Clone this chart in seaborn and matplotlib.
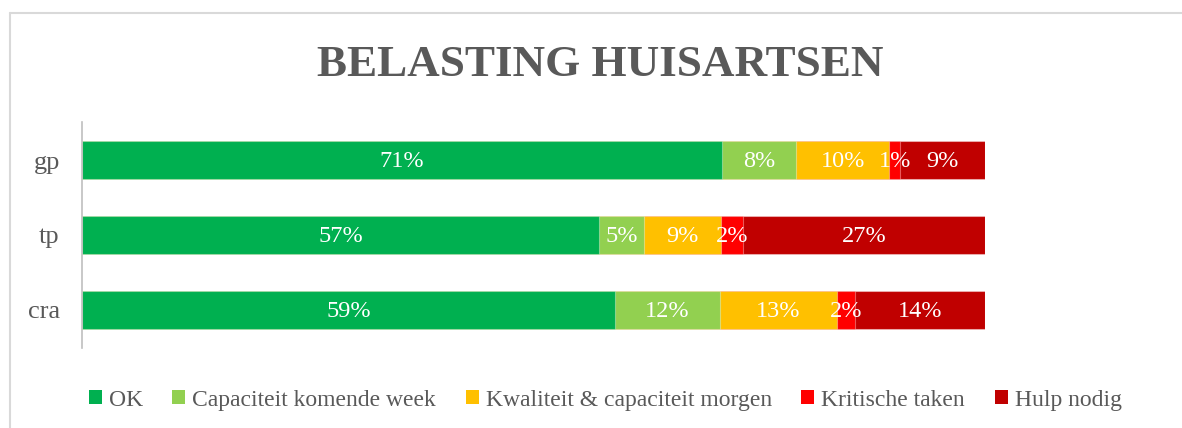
import matplotlib
matplotlib.use("Agg")
import matplotlib.pyplot as plt
from matplotlib.lines import Line2D
from matplotlib.patches import Patch
import seaborn as sns
import pandas as pd
import numpy as np

categories = ["gp", "tp", "cra"]
series = ["OK", "Capaciteit komende week", "Kwaliteit & capaciteit morgen", "Kritische taken", "Hulp nodig"]
ok = [70.9, 57.3, 59.0]
capaciteit = [8.2, 4.9, 11.6]
kwaliteit = [10.3, 8.6, 13.0]
kritisch = [1.2, 2.4, 2.0]
hulp = [9.4, 26.8, 14.4]
colors = ["#00B050", "#92D050", "#FFC000", "#FF0000", "#C00000"]

sns.set_theme(style="white")
plt.rcParams["font.family"] = ["Liberation Serif", "DejaVu Serif"]

values = np.array([ok, capaciteit, kwaliteit, kritisch, hulp])
cum = np.cumsum(values, axis=0)

fig = plt.figure(figsize=(11.82, 4.28), dpi=100)
ax = fig.add_axes([82/1182, 80/428, (985-82)/1182, 226/428])

for i in range(len(series) - 1, -1, -1):
    df = pd.DataFrame({"cat": categories, "val": cum[i]})
    sns.barplot(data=df, x="val", y="cat", orient="h", color=colors[i],
                saturation=1, width=0.507, ax=ax, edgecolor=(1, 1, 1, 0.35),
                linewidth=0.8)

for i in range(len(series)):
    start = cum[i] - values[i]
    for j, cat in enumerate(categories):
        ax.text(start[j] + values[i][j] / 2, j + 0.02, f"{round(values[i][j])}%",
                ha="center", va="center", color="white", fontsize=17.5)

ax.set_xlim(0, 100)
ax.set_ylim(2.507, -0.507)
ax.set_xlabel("")
ax.set_ylabel("")
ax.set_xticks([])
for s in ["top", "right", "bottom"]:
    ax.spines[s].set_visible(False)
ax.spines["left"].set_color("#bfbfbf")
ax.spines["left"].set_linewidth(1.2)
ax.tick_params(axis="y", length=0, pad=16, labelsize=19, labelcolor="#595959")

fig.text(0.508, 0.848, "BELASTING HUISARTSEN", ha="center", va="center",
         fontsize=32.5, fontweight="bold", color="#595959")

handles = [Patch(facecolor=c, edgecolor="none") for c in colors]
fig.legend(handles, series, loc="center", bbox_to_anchor=(0.512, 0.065), ncol=5,
           frameon=False, fontsize=17, labelcolor="#595959", handlelength=0.55,
           handleheight=0.55, handletextpad=0.3, columnspacing=1.25)

fig.add_artist(Line2D([10/1182, 10/1182], [0, 1 - 13/428], color="#d9d9d9", lw=1.5))
fig.add_artist(Line2D([10/1182, 1], [1 - 13/428, 1 - 13/428], color="#d9d9d9", lw=1.5))

fig.savefig("out.png", dpi=100, facecolor="white")
